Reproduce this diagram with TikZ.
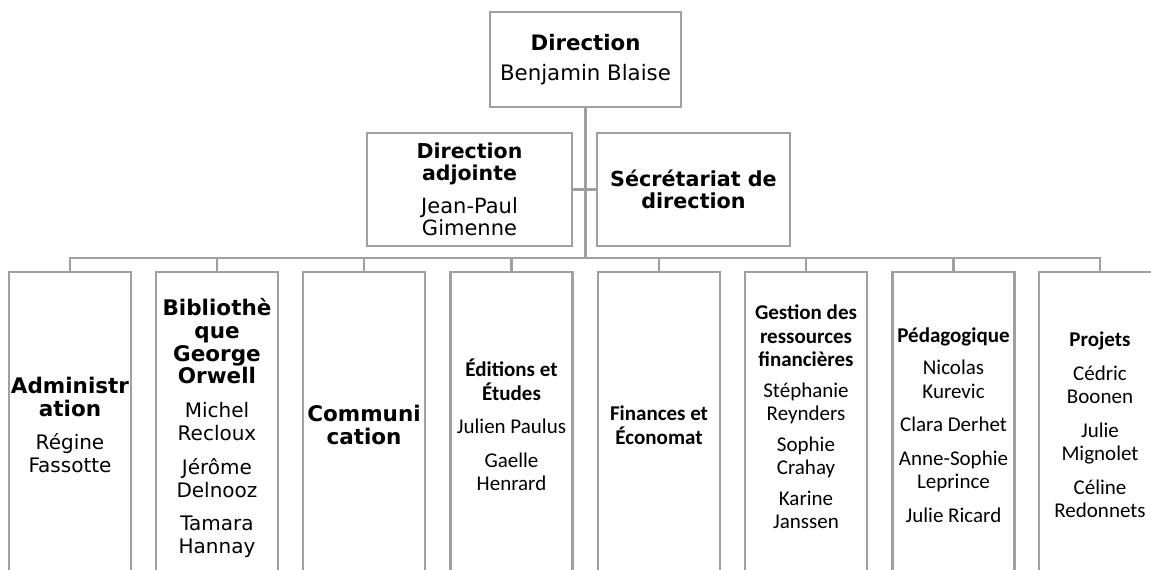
\documentclass[tikz,border=0pt]{standalone}
\usepackage{fontspec}
\newfontfamily\vfont{DejaVu Sans}
\newfontfamily\cfont{Carlito}
\definecolor{boxgray}{HTML}{A0A0A0}
\definecolor{linegray}{HTML}{A0A0A0}
\newcommand\hb[1]{{\fontsize{21.5}{22.8}\selectfont\bfseries #1}}
\begin{document}
\begin{tikzpicture}[x=1pt,y=-1pt,
  box/.style={draw=boxgray, line width=2.5pt, fill=white, align=center, inner sep=0pt, text=black},
  link/.style={draw=linegray, line width=2.5pt},
  low/.style={box, minimum width=122pt, minimum height=306pt},
  vlow/.style={low, font=\vfont\fontsize{20}{22.8}\selectfont},
  clow/.style={low, font=\cfont\fontsize{21}{23.5}\selectfont},
  vtext/.style={align=center, inner sep=0pt, text=black, font=\vfont\fontsize{20}{22.8}\selectfont},
  ctext/.style={align=center, inner sep=0pt, text=black, font=\cfont\fontsize{21}{23.5}\selectfont}]
\useasboundingbox (0,0) rectangle (1151,570);
\clip (0,0) rectangle (1151,570);
\fill[white] (0,0) rectangle (1151,570);

\node[box, minimum width=191pt, minimum height=95pt, font=\vfont\fontsize{21.3}{25}\selectfont] (top) at (585.5,59.5)
  {\textbf{Direction}\\[5pt]Benjamin Blaise};
\node[box, minimum width=205pt, minimum height=113pt, font=\vfont\fontsize{21}{22.5}\selectfont] (adj) at (469.5,189.5)
  {{\fontsize{20.5}{22.5}\selectfont\bfseries Direction}\\{\fontsize{20.5}{22.5}\selectfont\bfseries adjointe}\\[10pt]Jean-Paul\\Gimenne};
\node[box, minimum width=193pt, minimum height=113pt, font=\vfont\fontsize{20.7}{22.5}\selectfont] (sec) at (693.5,189.5)
  {\textbf{Sécrétariat de}\\\textbf{direction}};

\node[vlow] (b1) at (70,425)
  {\hb{Administr}\\\hb{ation}\\[11pt]Régine\\Fassotte};
\node[vlow] (b2) at (217,425) {};
\node[vtext] (b2t) at (217,428)
  {\hb{Bibliothè}\\\hb{que}\\\hb{George}\\\hb{Orwell}\\[11pt]Michel\\Recloux\\[11pt]Jérôme\\Delnooz\\[11pt]Tamara\\Hannay};
\node[vlow] (b3) at (364,425)
  {\hb{Communi}\\\hb{cation}};
\node[clow] (b4) at (511.5,425)
  {\textbf{Éditions et}\\\textbf{Études}\\[10pt]Julien Paulus\\[10pt]Gaelle\\Henrard};
\node[clow] (b5) at (659,425)
  {\textbf{Finances et}\\\textbf{Économat}};
\node[clow] (b6) at (806,425) {};
\node[ctext] (b6t) at (806,417)
  {\textbf{Gestion des}\\\textbf{ressources}\\\textbf{financières}\\[7pt]Stéphanie\\Reynders\\[7pt]Sophie\\Crahay\\[7pt]Karine\\Janssen};
\node[clow] (b7) at (953.5,425)
  {\textbf{Pédagogique}\\[9pt]Nicolas\\Kurevic\\[10pt]Clara Derhet\\[10pt]Anne-Sophie\\Leprince\\[10pt]Julie Ricard};
\node[clow] (b8) at (1100,425)
  {\textbf{Projets}\\[10pt]Cédric\\Boonen\\[10pt]Julie\\Mignolet\\[10pt]Céline\\Redonnets};

\coordinate (j) at (585.5,258);
\draw[link] (top.south) -- (j);
\draw[link] (adj.east) -- (adj.east -| top.south);
\draw[link] (sec.west) -- (sec.west -| top.south);
\foreach \b in {b1,b2,b3,b4,b5,b6,b7,b8}
  \draw[link] (j) -| (\b.north);
\end{tikzpicture}
\end{document}
